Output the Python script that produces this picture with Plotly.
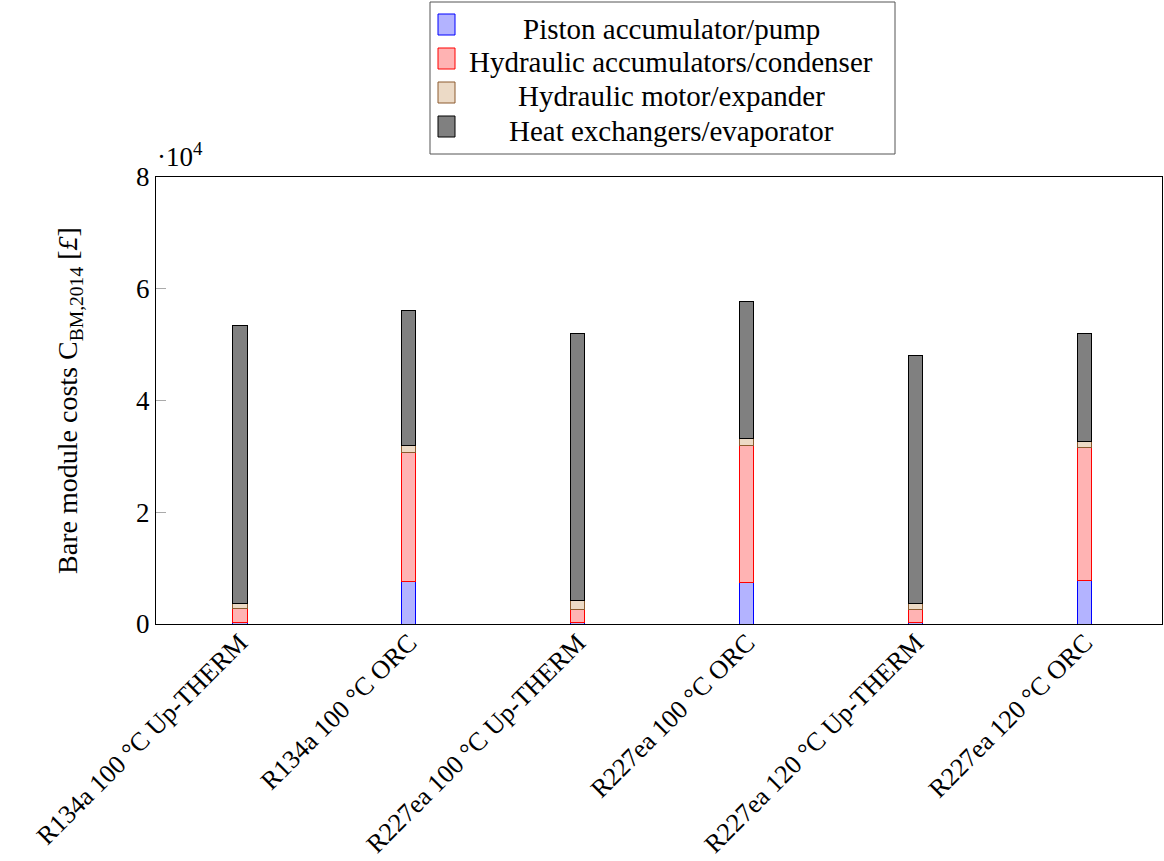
import plotly.graph_objects as go

# Bare module cost breakdown per configuration
categories = [
    "R134a 100 °C Up-THERM",
    "R134a 100 °C ORC",
    "R227ea 100 °C Up-THERM",
    "R227ea 100 °C ORC",
    "R227ea 120 °C Up-THERM",
    "R227ea 120 °C ORC",
]
piston_pump = [300, 7550, 300, 7500, 300, 7790]
hydr_acc_condenser = [2430, 23220, 2380, 24400, 2310, 23820]
motor_expander = [1020, 1130, 1610, 1320, 1070, 1070]
hx_evaporator = [49650, 24180, 47680, 24520, 44290, 19290]

series = [
    ("Piston accumulator/pump", piston_pump, "#b3b3ff", "#0000ff"),
    ("Hydraulic accumulators/condenser", hydr_acc_condenser, "#ffb3b3", "#ff0000"),
    ("Hydraulic motor/expander", motor_expander, "#ecdac6", "#8c5a2e"),
    ("Heat exchangers/evaporator", hx_evaporator, "#808080", "#000000"),
]

W, H = 1164, 861
L, R, T, B = 156, 1162, 177, 624
FONT = "Liberation Serif"

xpos = list(range(len(categories)))

fig = go.Figure()
for name, vals, fill, line in series:
    fig.add_trace(go.Bar(
        x=xpos, y=vals, name=name, width=0.083,
        marker=dict(color=fill, line=dict(color=line, width=1)),
        showlegend=False,
    ))


def px_x(p):
    return (p - L) / (R - L)


def px_y(p):
    return (B - p) / (B - T)


shapes = [
    # legend frame
    dict(type="rect", xref="paper", yref="paper",
         x0=px_x(430), x1=px_x(895), y0=px_y(154), y1=px_y(2),
         line=dict(color="#555555", width=1), fillcolor="white", layer="above"),
]
annotations = []
row_centers = [24.5, 58.5, 92.5, 126.5]
for (name, vals, fill, line), yc in zip(series, row_centers):
    shapes.append(dict(type="rect", xref="paper", yref="paper",
                       x0=px_x(438), x1=px_x(455), y0=px_y(yc + 10.5), y1=px_y(yc - 10.5),
                       line=dict(color=line, width=1), fillcolor=fill, layer="above"))
    annotations.append(dict(xref="paper", yref="paper", x=px_x(671), y=px_y(yc + 4),
                            text=name, showarrow=False, xanchor="center", yanchor="middle",
                            font=dict(family=FONT, size=29, color="black")))

annotations.append(dict(xref="paper", yref="paper", x=px_x(155), y=px_y(174),
                        text="·10<sup>4</sup>", showarrow=False, xanchor="left", yanchor="bottom",
                        font=dict(family=FONT, size=27, color="black")))

fig.update_layout(
    width=W, height=H,
    margin=dict(l=L, r=W - R, t=T, b=H - B),
    plot_bgcolor="white", paper_bgcolor="white",
    barmode="stack",
    font=dict(family=FONT, size=26, color="black"),
    shapes=shapes, annotations=annotations,
)
fig.update_xaxes(
    range=[-0.497, 5.456], tickmode="array", tickvals=xpos, ticktext=categories,
    tickangle=-45, showgrid=False, zeroline=False, ticks="",
    showline=True, linecolor="black", linewidth=1, mirror=True,
    tickfont=dict(family=FONT, size=26), automargin=False,
    ticklabelstandoff=-8,
)
fig.update_yaxes(
    range=[0, 80000], tickvals=[0, 20000, 40000, 60000, 80000],
    ticktext=["0", "2", "4", "6", "8"],
    showgrid=False, zeroline=False,
    ticks="inside", ticklen=10, tickcolor="#aaaaaa", tickwidth=1,
    showline=True, linecolor="black", linewidth=1, mirror=True,
    tickfont=dict(family=FONT, size=27), automargin=False,
    title=dict(text="Bare module costs C<sub>BM,2014</sub> [<i>£</i>]",
               font=dict(family=FONT, size=28), standoff=50),
)

fig.write_html("out.html")
